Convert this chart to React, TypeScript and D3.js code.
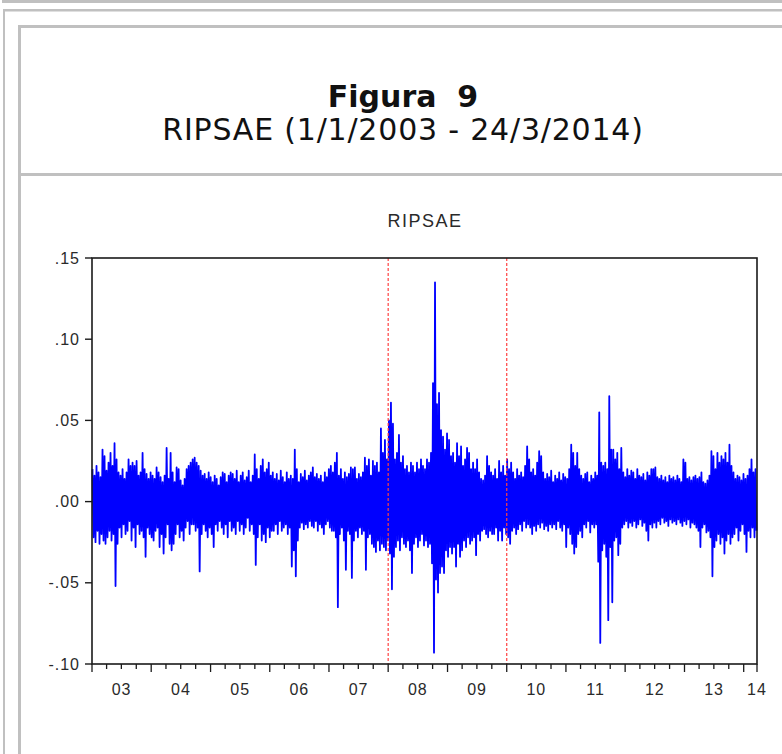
import React from 'react';
import * as d3 from 'd3';

const W = 782;
const H = 754;

// Sample period of the series
const FIRST_DAY = new Date(2003, 0, 1);
const LAST_DAY = new Date(2014, 2, 24);

const Y_TICKS = [0.15, 0.1, 0.05, 0, -0.05, -0.1];
const Y_TICK_LABELS = ['.15', '.10', '.05', '.00', '-.05', '-.10'];
const YEARS = [2003, 2004, 2005, 2006, 2007, 2008, 2009, 2010, 2011, 2012, 2013, 2014];
const YEAR_LABELS = ['03', '04', '05', '06', '07', '08', '09', '10', '11', '12', '13', '14'];
const BREAK_DATES = [new Date(2008, 0, 1), new Date(2010, 0, 1)];

// Daily RIPSAE returns (per mille), successive up/down swings through the sample
const RET_2003 = [
  20, -22, 16, -25, 22, -18, 18, -26, 15, -20, 32, -24, 28, -26, 19, -22, 24, -18, 30, -24,
  22, -20, 36, -52, 26, -26, 18, -16, 16, -22, 20, -14, 14, -20, 18, -18, 26, -12, 22, -24,
  24, -16, 22, -28, 25, -14, 16, -20, 18, -18, 30, -22, 20, -34, 17, -16, 14, -20, 18, -22,
];
const RET_2004 = [
  16, -24, 14, -18, 21, -16, 18, -28, 15, -20, 12, -32, 16, -22, 33, -14, 14, -26, 30, -30,
  18, -26, 12, -20, 21, -14, 20, -22, 13, -18, 10, -24, 14, -16, 20, -12, 22, -20, 24, -14,
  26, -14, 27, -18, 24, -16, 22, -43, 19, -20, 16, -14, 17, -18, 14, -22, 18, -16, 15, -20,
];
const RET_2005 = [
  12, -28, 16, -14, 14, -18, 10, -12, 15, -16, 18, -20, 17, -14, 12, -22, 16, -12, 18, -18,
  17, -16, 14, -20, 19, -12, 12, -18, 16, -14, 18, -20, 13, -16, 15, -10, 19, -18, 12, -14,
  16, -20, 29, -39, 20, -22, 14, -14, 22, -24, 26, -20, 18, -25, 20, -16, 24, -22, 16, -18,
];
const RET_2006 = [
  18, -18, 14, -14, 17, -20, 13, -12, 19, -18, 15, -16, 12, -14, 18, -20, 14, -16, 16, -40,
  14, -30, 32, -46, 20, -24, 12, -16, 17, -13, 15, -17, 19, -14, 13, -16, 16, -12, 18, -15,
  21, -16, 15, -12, 17, -18, 14, -14, 16, -16, 12, -20, 18, -14, 15, -12, 20, -16, 22, -18,
];
const RET_2007 = [
  18, -18, 24, -22, 30, -65, 16, -20, 20, -16, 14, -24, 18, -42, 15, -18, 17, -20, 21, -47,
  20, -24, 21, -18, 14, -22, 17, -16, 15, -20, 18, -18, 27, -42, 22, -22, 26, -20, 16, -26,
  25, -28, 22, -31, 24, -24, 18, -30, 45, -26, 30, -28, 38, -30, 26, -24, 50, -32, 61, -54,
];
const RET_2008 = [
  48, -34, 26, -28, 30, -24, 41, -30, 24, -22, 28, -26, 20, -28, 22, -24, 18, -30, 24, -44,
  22, -26, 18, -22, 24, -28, 20, -24, 26, -20, 22, -27, 20, -24, 26, -28, 24, -26, 30, -38,
  73, -93, 135, -48, 60, -56, 67, -44, 44, -40, 40, -44, 32, -30, 42, -34, 38, -28, 28, -32,
];
const RET_2009 = [
  30, -28, 24, -40, 36, -26, 28, -34, 34, -30, 22, -24, 26, -28, 33, -22, 30, -26, 20, -24,
  24, -22, 20, -33, 26, -20, 18, -24, 14, -18, 13, -17, 16, -20, 28, -22, 22, -18, 18, -20,
  16, -20, 20, -16, 14, -24, 25, -18, 18, -24, 22, -16, 16, -20, 26, -22, 20, -26, 24, -18,
];
const RET_2010 = [
  18, -16, 14, -20, 20, -17, 16, -14, 18, -18, 15, -12, 22, -16, 34, -14, 26, -16, 18, -20,
  20, -15, 16, -18, 24, -14, 31, -16, 28, -13, 18, -17, 14, -15, 17, -18, 15, -14, 19, -16,
  12, -14, 16, -17, 14, -12, 18, -16, 13, -18, 17, -14, 15, -28, 14, -16, 20, -20, 35, -26,
];
const RET_2011 = [
  30, -32, 22, -28, 30, -20, 20, -18, 16, -22, 14, -14, 17, -16, 18, -12, 12, -19, 16, -14,
  14, -16, 18, -14, 16, -37, 55, -87, 24, -30, 22, -26, 24, -34, 20, -73, 65, -28, 32, -62,
  32, -24, 26, -22, 30, -33, 20, -26, 33, -16, 18, -14, 15, -12, 20, -16, 16, -13, 19, -15,
];
const RET_2012 = [
  18, -12, 14, -16, 20, -14, 16, -11, 15, -15, 17, -13, 13, -18, 18, -24, 16, -14, 20, -16,
  20, -13, 21, -16, 15, -12, 14, -14, 16, -10, 13, -13, 15, -12, 12, -15, 16, -11, 14, -13,
  15, -12, 13, -14, 16, -11, 14, -13, 12, -15, 26, -12, 24, -14, 14, -11, 15, -16, 13, -13,
];
const RET_2013 = [
  15, -14, 16, -16, 14, -18, 15, -28, 18, -16, 12, -14, 11, -19, 13, -18, 16, -22, 31, -46,
  28, -28, 20, -24, 30, -20, 24, -26, 28, -22, 26, -32, 30, -24, 24, -20, 35, -26, 22, -22,
  18, -20, 14, -16, 16, -24, 15, -18, 13, -14, 17, -20, 14, -31, 16, -18, 20, -22, 26, -16,
];
const RET_2014 = [18, -22, 20, -18];

const RETURNS_PER_MILLE = [
  ...RET_2003, ...RET_2004, ...RET_2005, ...RET_2006, ...RET_2007, ...RET_2008,
  ...RET_2009, ...RET_2010, ...RET_2011, ...RET_2012, ...RET_2013, ...RET_2014,
];

// Plot box
const PLOT = { left: 92, right: 757, top: 258, bottom: 664 };
const FRAME = '#c0c0c0';
const AXIS = '#1a1a1a';
const LABEL = '#2a2a2a';

export default function App() {
  const x = d3.scaleTime().domain([FIRST_DAY, LAST_DAY]).range([PLOT.left, PLOT.right]);
  const y = d3.scaleLinear().domain([-0.1, 0.15]).range([PLOT.bottom, PLOT.top]);

  const n = RETURNS_PER_MILLE.length;
  const span = LAST_DAY.getTime() - FIRST_DAY.getTime();
  const series = RETURNS_PER_MILLE.map((v, i) => ({
    date: new Date(FIRST_DAY.getTime() + ((i + 0.5) / n) * span),
    value: v / 1000,
  }));

  const line = d3
    .line<{ date: Date; value: number }>()
    .x((d) => x(d.date))
    .y((d) => y(d.value));

  const quarterTicks = d3.timeMonth.every(3)!.range(FIRST_DAY, d3.timeDay.offset(LAST_DAY, 1));

  const yearLabelPos = YEARS.map((yr) => {
    const a = new Date(yr, 0, 1);
    const b = new Date(yr + 1, 0, 1);
    const mid = new Date((a.getTime() + b.getTime()) / 2);
    return mid > LAST_DAY ? x(LAST_DAY) : x(mid);
  });

  return (
    <svg
      width={W}
      height={H}
      viewBox={`0 0 ${W} ${H}`}
      style={{ position: 'absolute', left: 0, top: 0, background: '#ffffff' }}
    >
      <rect x={0} y={0} width={W} height={H} fill="#ffffff" />

      {/* page frames */}
      <rect x={2} y={0} width={W - 2} height={3} fill={FRAME} />
      <rect x={3} y={9} width={W - 3} height={2.5} fill={FRAME} />
      <rect x={3} y={9} width={2} height={H - 9} fill={FRAME} />
      <rect x={18} y={25} width={W - 18} height={3} fill={FRAME} />
      <rect x={18} y={25} width={3} height={H - 25} fill={FRAME} />
      <rect x={18} y={173} width={W - 18} height={3} fill={FRAME} />

      {/* heading */}
      <text
        x={403}
        y={107}
        textAnchor="middle"
        fontFamily="'DejaVu Sans', Verdana, sans-serif"
        fontWeight="bold"
        fontSize={30}
        fill="#111"
        style={{ whiteSpace: 'pre' }}
      >
        {'Figura  9'}
      </text>
      <text
        x={403}
        y={140}
        textAnchor="middle"
        fontFamily="'DejaVu Sans', Verdana, sans-serif"
        fontSize={30}
        letterSpacing={0.8}
        fill="#111"
      >
        RIPSAE (1/1/2003 - 24/3/2014)
      </text>

      {/* chart title */}
      <text
        x={425}
        y={227}
        textAnchor="middle"
        fontFamily="'Liberation Sans', Arial, sans-serif"
        fontSize={18}
        letterSpacing={1.5}
        fill={LABEL}
      >
        RIPSAE
      </text>

      {/* series */}
      <path
        d={line(series) ?? ''}
        fill="none"
        stroke="#0000ff"
        strokeWidth={1.8}
        strokeLinejoin="round"
      />

      {/* break markers */}
      {BREAK_DATES.map((d, i) => (
        <line
          key={i}
          x1={x(d)}
          x2={x(d)}
          y1={PLOT.top}
          y2={PLOT.bottom}
          stroke="#ff4040"
          strokeWidth={1.2}
          strokeDasharray="3 2"
        />
      ))}

      {/* frame of plot */}
      <rect
        x={PLOT.left}
        y={PLOT.top}
        width={PLOT.right - PLOT.left}
        height={PLOT.bottom - PLOT.top}
        fill="none"
        stroke={AXIS}
        strokeWidth={1.6}
      />

      {/* y axis */}
      {Y_TICKS.map((t, i) => (
        <g key={i}>
          <line x1={PLOT.left - 7} x2={PLOT.left} y1={y(t)} y2={y(t)} stroke={AXIS} strokeWidth={1.4} />
          <text
            x={80}
            y={y(t) + 5.5}
            textAnchor="end"
            fontFamily="'Liberation Sans', Arial, sans-serif"
            fontSize={16}
            letterSpacing={1}
            fill={LABEL}
          >
            {Y_TICK_LABELS[i]}
          </text>
        </g>
      ))}

      {/* x axis */}
      {quarterTicks.map((d, i) => {
        const major = d.getMonth() === 0;
        return (
          <line
            key={i}
            x1={x(d)}
            x2={x(d)}
            y1={PLOT.bottom}
            y2={PLOT.bottom + (major ? 8 : 5)}
            stroke={AXIS}
            strokeWidth={1.3}
          />
        );
      })}
      <line x1={PLOT.right} x2={PLOT.right} y1={PLOT.bottom} y2={PLOT.bottom + 8} stroke={AXIS} strokeWidth={1.3} />
      {YEAR_LABELS.map((lab, i) => (
        <text
          key={lab}
          x={yearLabelPos[i]}
          y={695}
          textAnchor="middle"
          fontFamily="'Liberation Sans', Arial, sans-serif"
          fontSize={16}
          letterSpacing={1}
          fill={LABEL}
        >
          {lab}
        </text>
      ))}
    </svg>
  );
}
